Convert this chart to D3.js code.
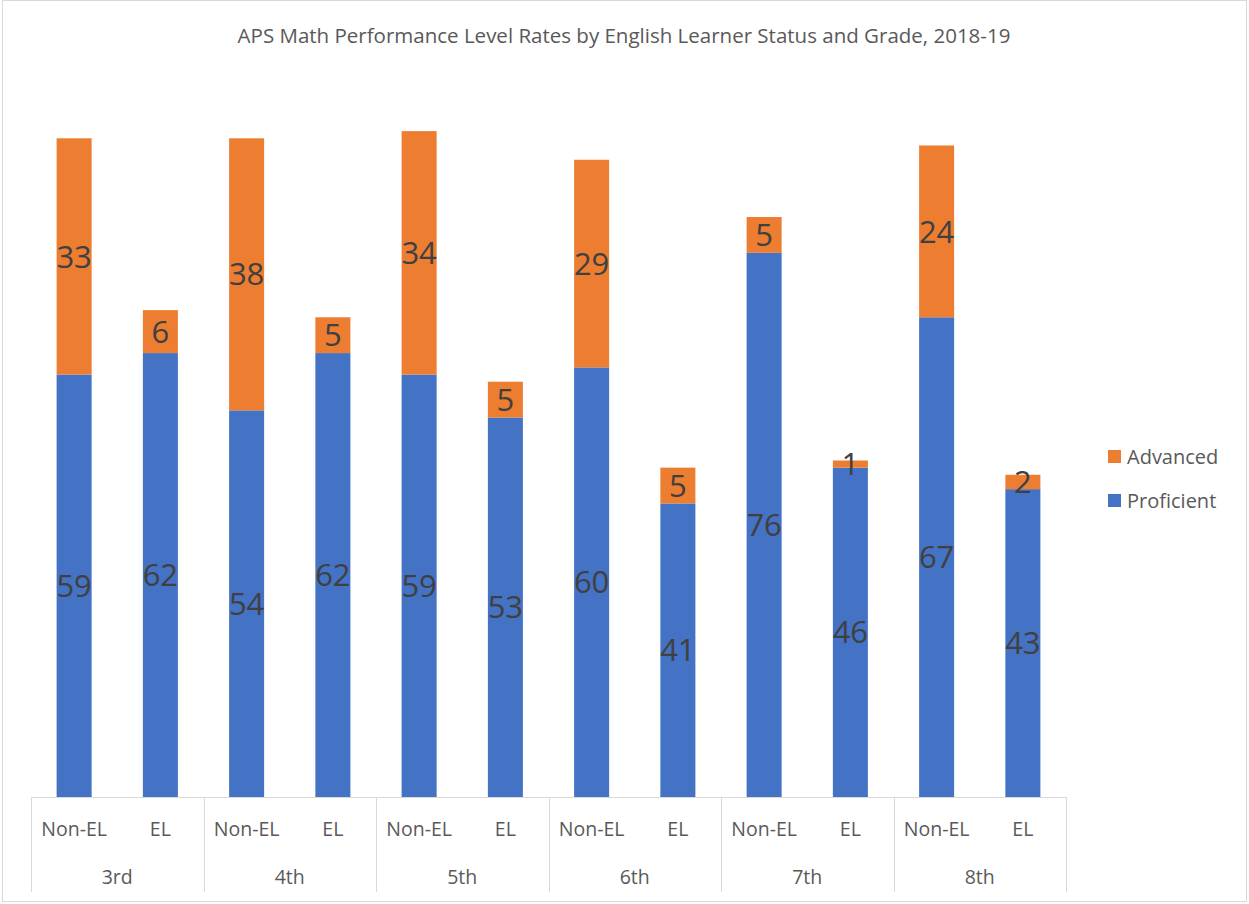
<!DOCTYPE html>
<html>
<head>
<meta charset="utf-8">
<script src="https://cdn.jsdelivr.net/npm/d3@7"></script>
<style>
  body { margin: 0; background: #fff; }
  text { font-family: "Open Sans", sans-serif; }
</style>
</head>
<body>
<div id="wrapper"></div>
<script>
const grades = ["3rd", "4th", "5th", "6th", "7th", "8th"];
const statuses = ["Non-EL", "EL"];
// values per grade, in order Non-EL, EL
const proficient = [59, 62, 54, 62, 59, 53, 60, 41, 76, 46, 67, 43];
const advanced = [33, 6, 38, 5, 34, 5, 29, 5, 5, 1, 24, 2];
const seriesNames = ["Proficient", "Advanced"];
const colors = ["#4472C4", "#ED7D31"];

const data = grades.flatMap((g, i) =>
  statuses.map((s, j) => ({
    grade: g,
    status: s,
    Proficient: proficient[i * 2 + j],
    Advanced: advanced[i * 2 + j]
  }))
);

const dimensions = {
  width: 1249,
  height: 904,
  margin: { top: 81, right: 183, bottom: 107, left: 31 }
};
dimensions.boundedWidth = dimensions.width - dimensions.margin.left - dimensions.margin.right;
dimensions.boundedHeight = dimensions.height - dimensions.margin.top - dimensions.margin.bottom;

const svg = d3.select("#wrapper")
  .append("svg")
  .attr("width", dimensions.width)
  .attr("height", dimensions.height);

// chart border
svg.append("rect")
  .attr("x", 2.5).attr("y", 0.5)
  .attr("width", dimensions.width - 5).attr("height", dimensions.height - 3)
  .attr("fill", "none").attr("stroke", "#d9d9d9");

svg.append("text")
  .attr("x", 624).attr("y", 43)
  .attr("text-anchor", "middle")
  .attr("fill", "#595959")
  .style("font-size", "20.5px")
  .text("APS Math Performance Level Rates by English Learner Status and Grade, 2018-19");

const bounds = svg.append("g")
  .attr("transform", `translate(${dimensions.margin.left},${dimensions.margin.top})`);

const xGrade = d3.scaleBand()
  .domain(grades)
  .range([0, dimensions.boundedWidth])
  .padding(0);

const xStatus = d3.scaleBand()
  .domain(statuses)
  .range([0, xGrade.bandwidth()])
  .paddingInner(0.594)
  .paddingOuter(0.297);

const yScale = d3.scaleLinear()
  .domain([0, 100])
  .range([dimensions.boundedHeight, 0]);

const stacked = d3.stack().keys(seriesNames)(data);

const layers = bounds.selectAll(".layer")
  .data(stacked)
  .join("g")
  .attr("fill", (d, i) => colors[i]);

layers.selectAll("rect")
  .data(d => d)
  .join("rect")
  .attr("x", d => xGrade(d.data.grade) + xStatus(d.data.status))
  .attr("width", xStatus.bandwidth())
  .attr("y", d => yScale(d[1]))
  .attr("height", d => yScale(d[0]) - yScale(d[1]));

layers.selectAll("text")
  .data(d => d)
  .join("text")
  .attr("x", d => xGrade(d.data.grade) + xStatus(d.data.status) + xStatus.bandwidth() / 2)
  .attr("y", d => (yScale(d[0]) + yScale(d[1])) / 2)
  .attr("text-anchor", "middle")
  .attr("dy", "0.36em")
  .attr("fill", "#404040")
  .style("font-size", "31px")
  .text(d => d[1] - d[0]);

// two-level category axis
const axis = bounds.append("g")
  .attr("transform", `translate(0,${dimensions.boundedHeight})`);

axis.append("line")
  .attr("x1", 0).attr("x2", dimensions.boundedWidth)
  .attr("y1", 0.5).attr("y2", 0.5)
  .attr("stroke", "#d9d9d9");

axis.selectAll(".divider")
  .data(grades.map(g => xGrade(g)).concat([dimensions.boundedWidth]))
  .join("line")
  .attr("x1", d => Math.round(d) + 0.5).attr("x2", d => Math.round(d) + 0.5)
  .attr("y1", 0).attr("y2", 95)
  .attr("stroke", "#d9d9d9");

axis.selectAll(".status")
  .data(data)
  .join("text")
  .attr("x", d => xGrade(d.grade) + xStatus(d.status) + xStatus.bandwidth() / 2)
  .attr("y", 39)
  .attr("text-anchor", "middle")
  .attr("fill", "#595959")
  .style("font-size", "19.5px")
  .text(d => d.status);

axis.selectAll(".grade")
  .data(grades)
  .join("text")
  .attr("x", d => xGrade(d) + xGrade.bandwidth() / 2)
  .attr("y", 87)
  .attr("text-anchor", "middle")
  .attr("fill", "#595959")
  .style("font-size", "19.5px")
  .text(d => d);

// legend
const legendItems = seriesNames.slice().reverse();
const legend = svg.append("g")
  .attr("transform", "translate(1108,450)");

legend.selectAll("rect")
  .data(legendItems)
  .join("rect")
  .attr("x", 0)
  .attr("y", (d, i) => i * 44)
  .attr("width", 13).attr("height", 13)
  .attr("fill", d => colors[seriesNames.indexOf(d)]);

legend.selectAll("text")
  .data(legendItems)
  .join("text")
  .attr("x", 19)
  .attr("y", (d, i) => i * 44 + 6.5)
  .attr("dy", "0.36em")
  .attr("fill", "#595959")
  .style("font-size", "20px")
  .text(d => d);
</script>
</body>
</html>
